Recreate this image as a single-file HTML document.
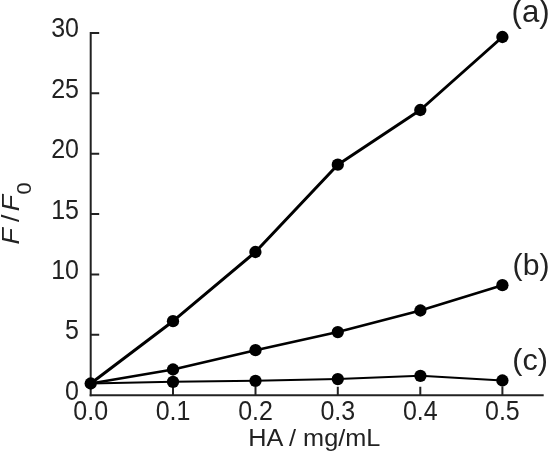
<!DOCTYPE html>
<html><head><meta charset="utf-8">
<style>
html,body{margin:0;padding:0;background:#fff;}
svg{display:block;filter:blur(0.35px);}
text{font-family:"Liberation Sans",Arial,sans-serif;fill:#222;}
</style></head>
<body>
<svg width="548" height="453" viewBox="0 0 548 453">
<rect width="548" height="453" fill="#fff"/>
<g stroke="#222" stroke-width="2.0" fill="none">
<path d="M90.7 31.9V396.2"/>
<path d="M89.7 395.2H543.7"/>
<path d="M90.7 32.9H99.2M90.7 93.3H99.2M90.7 153.7H99.2M90.7 214.1H99.2M90.7 274.4H99.2M90.7 334.8H99.2"/>
<path d="M173.0 395.2V386.7M255.5 395.2V386.7M337.8 395.2V386.7M420.3 395.2V386.7M502.4 395.2V386.7"/>
</g>
<g stroke="#000" fill="none" stroke-linejoin="round">
<polyline stroke-width="3" points="90.7,383.5 173.0,321.2 255.4,252.0 337.8,164.7 420.3,110.0 502.4,37.0"/>
<polyline stroke-width="2.6" points="90.7,383.5 173.0,369.5 255.5,350.2 337.8,332.1 420.4,310.5 502.4,285.2"/>
<polyline stroke-width="2" points="90.7,383.5 173.0,381.8 255.5,380.8 337.8,379.1 420.4,375.8 502.4,380.5"/>
</g>
<g fill="#000"><circle cx="90.7" cy="383.5" r="6.15"/><circle cx="173.0" cy="321.2" r="6.15"/><circle cx="255.4" cy="252.0" r="6.15"/><circle cx="337.8" cy="164.7" r="6.15"/><circle cx="420.3" cy="110.0" r="6.15"/><circle cx="502.4" cy="37.0" r="6.15"/><circle cx="173.0" cy="369.5" r="6.15"/><circle cx="255.5" cy="350.2" r="6.15"/><circle cx="337.8" cy="332.1" r="6.15"/><circle cx="420.4" cy="310.5" r="6.15"/><circle cx="502.4" cy="285.2" r="6.15"/><circle cx="173.0" cy="381.8" r="6.15"/><circle cx="255.5" cy="380.8" r="6.15"/><circle cx="337.8" cy="379.1" r="6.15"/><circle cx="420.4" cy="375.8" r="6.15"/><circle cx="502.4" cy="380.5" r="6.15"/></g>
<g font-size="25.0" text-anchor="end">
<text transform="translate(79.0,37.2) scale(1,1.07)">30</text>
<text transform="translate(79.0,97.7) scale(1,1.07)">25</text>
<text transform="translate(79.0,158.1) scale(1,1.07)">20</text>
<text transform="translate(79.0,218.6) scale(1,1.07)">15</text>
<text transform="translate(79.0,279.0) scale(1,1.07)">10</text>
<text transform="translate(79.0,339.4) scale(1,1.07)">5</text>
<text transform="translate(79.0,399.9) scale(1,1.07)">0</text>
</g>
<g font-size="25.0" text-anchor="middle">
<text transform="translate(90.7,420.1) scale(1,1.07)">0.0</text>
<text transform="translate(173.0,420.1) scale(1,1.07)">0.1</text>
<text transform="translate(255.5,420.1) scale(1,1.07)">0.2</text>
<text transform="translate(337.8,420.1) scale(1,1.07)">0.3</text>
<text transform="translate(420.3,420.1) scale(1,1.07)">0.4</text>
<text transform="translate(502.4,420.1) scale(1,1.07)">0.5</text>
</g>
<text transform="translate(314.3,445.6) scale(1,0.93)" font-size="25.3" text-anchor="middle">HA / mg/mL</text>
<text x="511.6" y="22" font-size="31.2">(a)</text>
<text transform="translate(512.6,275.2) scale(1.04,1)" font-size="29">(b)</text>
<text transform="translate(512.3,369.9) scale(1.05,1)" font-size="29.1">(c)</text>
<text transform="translate(19.4,244.6) rotate(-90) scale(1.1,1)" font-size="24.3"><tspan x="0" y="0" font-style="italic">F </tspan><tspan x="20.55" y="0">/ </tspan><tspan x="30.27" y="0" font-style="italic">F</tspan><tspan x="45.64" y="11.1" font-size="19.8">0</tspan></text>
</svg>
</body></html>
